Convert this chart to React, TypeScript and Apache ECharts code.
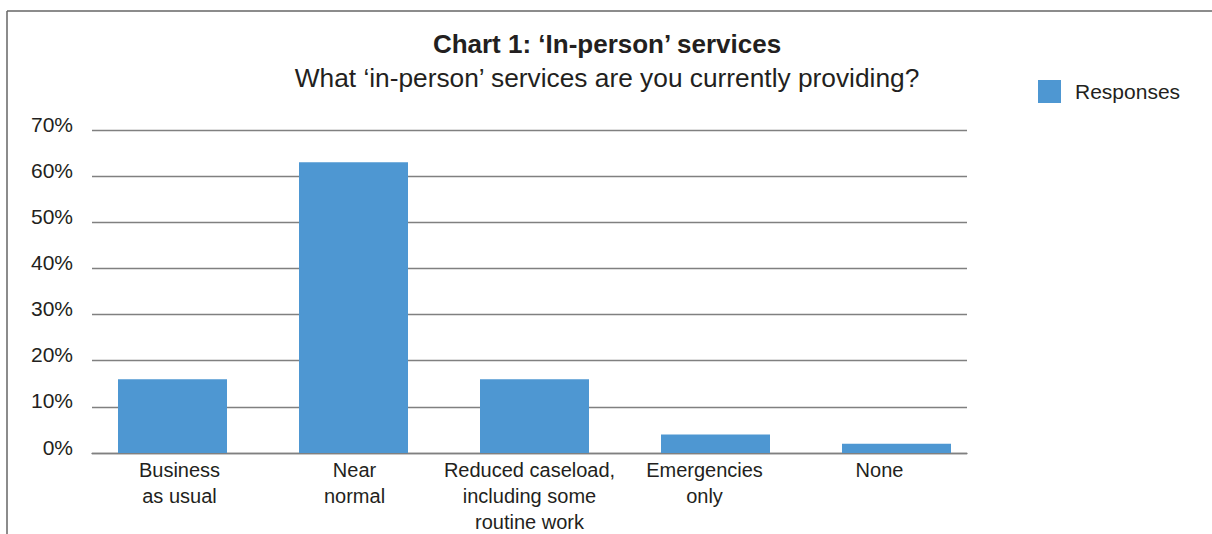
import React, { useEffect, useRef } from "react";
import * as echarts from "echarts";

const categories = [
  "Business\nas usual",
  "Near\nnormal",
  "Reduced caseload,\nincluding some\nroutine work",
  "Emergencies\nonly",
  "None",
];
const responses = [16, 63, 16, 4, 2];
const yTicks = { min: 0, max: 70, interval: 10 };
const titleText = "Chart 1: \u2018In-person\u2019 services";
const subtitleText = "What \u2018in-person\u2019 services are you currently providing?";
const seriesName = "Responses";

const FONT = "'Liberation Sans', Arial, Helvetica, sans-serif";
const TEXT = "#231f20";

export default function App() {
  const ref = useRef<HTMLDivElement>(null);
  useEffect(() => {
    if (!ref.current) return;
    const chart = echarts.init(ref.current, undefined, { renderer: "svg" });
    chart.setOption({
      animation: false,
      backgroundColor: "#ffffff",
      textStyle: { fontFamily: FONT },
      title: {
        text: titleText,
        subtext: subtitleText,
        left: 607,
        textAlign: "center",
        top: 31,
        padding: 0,
        itemGap: 8,
        textStyle: { fontFamily: FONT, fontSize: 26, lineHeight: 26, fontWeight: "bold", color: TEXT },
        subtextStyle: { fontFamily: FONT, fontSize: 26.3, lineHeight: 26, color: TEXT },
      },
      legend: {
        data: [seriesName],
        left: 1038,
        top: 80,
        padding: 0,
        itemWidth: 23,
        itemHeight: 23,
        itemGap: 10,
        textStyle: { fontFamily: FONT, fontSize: 21, color: TEXT, padding: [0, 0, 0, 9] },
        icon: "rect",
      },
      graphic: [
        { type: "line", shape: { x1: 7, y1: 11, x2: 1212, y2: 11 }, style: { stroke: "#666", lineWidth: 1.5 } },
        { type: "line", shape: { x1: 7, y1: 11, x2: 7, y2: 534 }, style: { stroke: "#666", lineWidth: 1.5 } },
      ],
      grid: [
        { left: 92, right: 245, top: 130, bottom: 81, containLabel: false, outerBoundsMode: "none" },
        { left: 82, right: 225, top: 130, bottom: 81, containLabel: false, outerBoundsMode: "none" },
      ],
      xAxis: [
        {
          type: "category",
          gridIndex: 0,
          data: categories,
          axisLine: { show: true, lineStyle: { color: "#808080", width: 1.3 } },
          axisTick: { show: false },
          axisLabel: {
            fontFamily: FONT,
            fontSize: 20,
            color: TEXT,
            lineHeight: 26,
            margin: 4,
            interval: 0,
          },
        },
        {
          type: "category",
          gridIndex: 1,
          data: categories,
          show: false,
        },
      ],
      yAxis: [
        {
          type: "value",
          gridIndex: 0,
          min: yTicks.min,
          max: yTicks.max,
          interval: yTicks.interval,
          axisLine: { show: false },
          axisTick: { show: false },
          axisLabel: {
            formatter: "{value}%",
            fontFamily: FONT,
            fontSize: 21,
            color: TEXT,
            margin: 19,
            verticalAlign: "bottom",
            lineHeight: 12,
          },
          splitLine: { show: true, lineStyle: { color: "#808080", width: 1.3 } },
        },
        {
          type: "value",
          gridIndex: 1,
          min: yTicks.min,
          max: yTicks.max,
          interval: yTicks.interval,
          show: false,
          splitLine: { show: false },
        },
      ],
      series: [
        {
          name: seriesName,
          type: "bar",
          xAxisIndex: 1,
          yAxisIndex: 1,
          data: responses,
          barWidth: 109,
          itemStyle: { color: "#4e97d2" },
          z: 3,
        },
      ],
    });
    return () => chart.dispose();
  }, []);
  return (
    <div
      ref={ref}
      style={{ position: "fixed", left: 0, top: 0, width: 1212, height: 534 }}
    />
  );
}
